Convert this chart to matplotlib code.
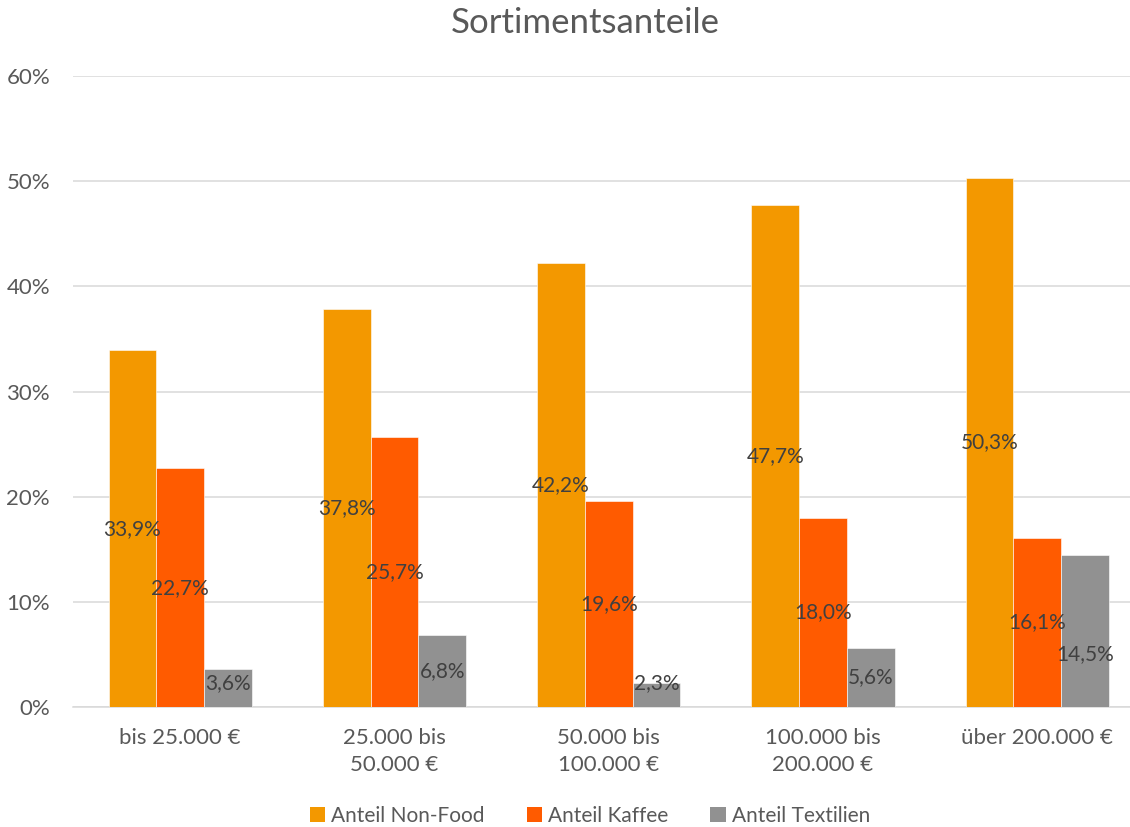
import matplotlib
matplotlib.use("Agg")
import matplotlib.pyplot as plt
import numpy as np
from matplotlib.patches import Patch

plt.rcParams['font.family'] = ['Lato', 'DejaVu Sans']

categories = ["bis 25.000 €", "25.000 bis\n50.000 €", "50.000 bis\n100.000 €",
              "100.000 bis\n200.000 €", "über 200.000 €"]
series_names = ["Anteil Non-Food", "Anteil Kaffee", "Anteil Textilien"]
non_food = [0.339, 0.378, 0.422, 0.477, 0.503]
kaffee = [0.227, 0.257, 0.196, 0.180, 0.161]
textilien = [0.036, 0.068, 0.023, 0.056, 0.145]
y_ticks = [0.0, 0.1, 0.2, 0.3, 0.4, 0.5, 0.6]

colors = ["#F39800", "#FF5B00", "#919191"]
text_col = "#595959"
label_col = "#404040"

fig = plt.figure(figsize=(11.30, 8.27), dpi=100)
ax = fig.add_axes([73/1130, 1 - 707/827, 1 - 73/1130, (707 - 76)/827])

x = np.arange(len(categories))
w = 0.2226
series = [non_food, kaffee, textilien]
for i, (vals, name, c) in enumerate(zip(series, series_names, colors)):
    xs = x + (i - 1) * w
    ax.bar(xs, vals, width=w, color=c, edgecolor="white", linewidth=0.4, zorder=3)
    for j, (xx, v) in enumerate(zip(xs, vals)):
        yy = max(v / 2, 0.0225)
        if i == 2 and j == 4:
            yy -= 0.022
        ax.text(xx, yy, f"{v*100:.1f}".replace(".", ",") + "%", ha="center", va="center",
                fontsize=15, color=label_col, zorder=4)

ax.set_xlim(-0.5, -0.5 + (1130 - 73) / 214.3)
ax.set_ylim(0, 0.6)
ax.set_yticks(y_ticks)
ax.set_yticklabels([f"{int(round(t*100))}%" for t in y_ticks], fontsize=16, color=text_col)
ax.set_xticks(x)
ax.set_xticklabels(categories, fontsize=16, color=text_col, linespacing=1.45)
ax.tick_params(axis="both", length=0)
ax.tick_params(axis="y", pad=16.5)
ax.tick_params(axis="x", pad=15)
ax.yaxis.grid(True, color="#D9D9D9", linewidth=1.1, zorder=0)
for s in ["top", "right", "left"]:
    ax.spines[s].set_visible(False)
ax.spines["bottom"].set_color("#D9D9D9")
ax.spines["bottom"].set_linewidth(1.1)

fig.text(585/1130, 1 - 23/827, "Sortimentsanteile", ha="center", va="center",
         fontsize=25, color=text_col)

handles = [Patch(facecolor=c, edgecolor="none") for c in colors]
leg = fig.legend(handles, series_names, loc="center", bbox_to_anchor=(590/1130, 1 - 816/827),
                 ncol=3, frameon=False, fontsize=15, handlelength=0.75, handleheight=0.75,
                 handletextpad=0.3, columnspacing=2.0, labelcolor=text_col)

fig.savefig("out.png", dpi=100)
